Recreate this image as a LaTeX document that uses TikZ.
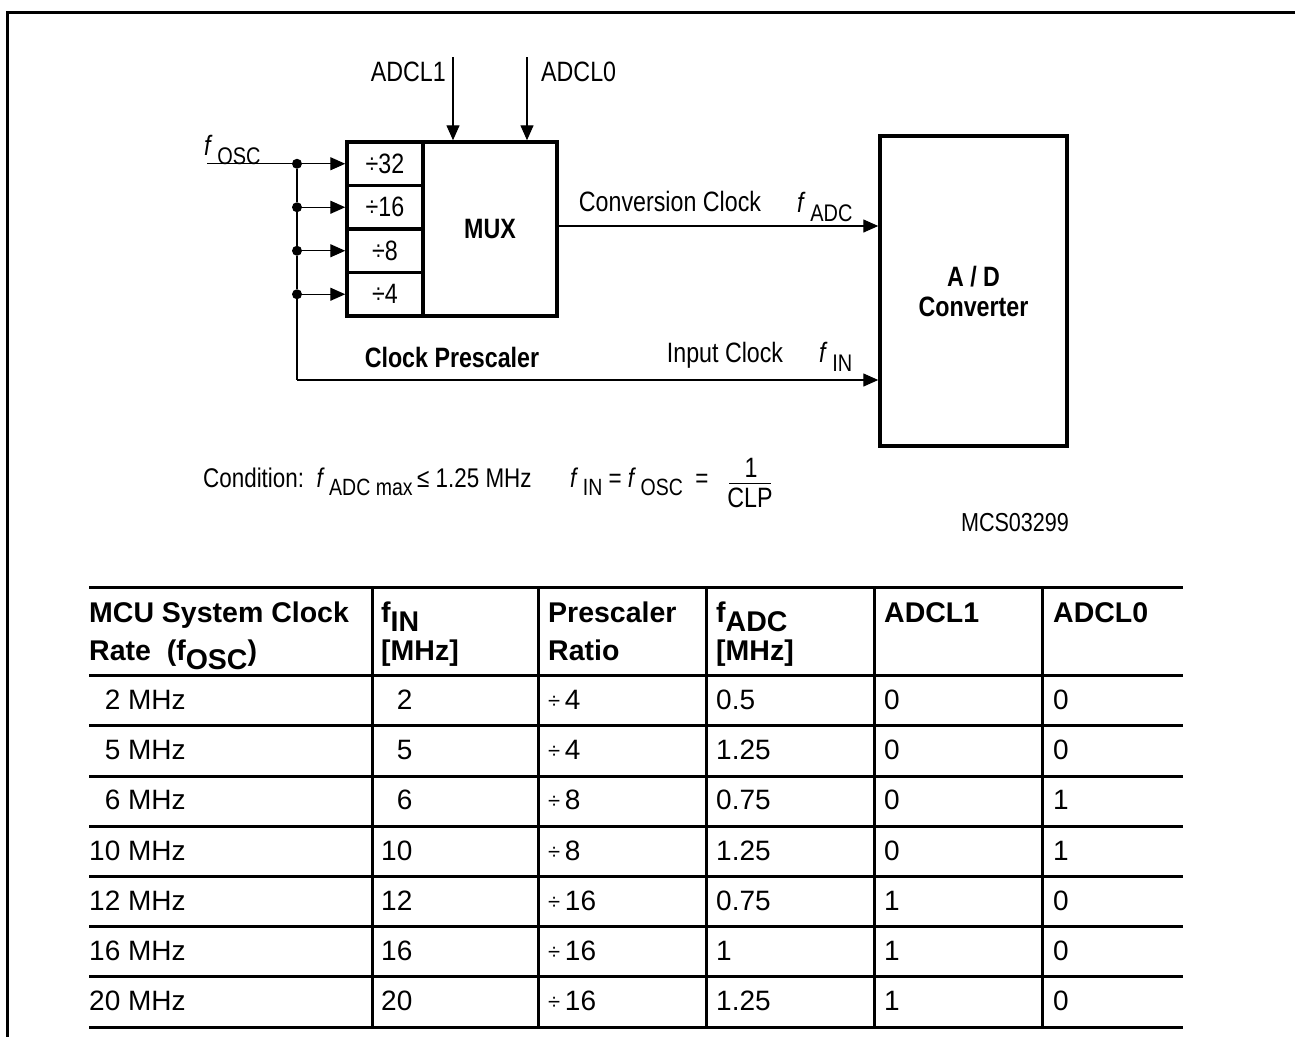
\documentclass[tikz,border=0pt]{standalone}
\usepackage{fontspec}
\setmainfont{Liberation Sans}
\newfontfamily\narrowfont[FakeStretch=0.83]{Liberation Sans}
\usetikzlibrary{arrows.meta}
\newcommand\lowtxt[1]{\raisebox{-0.32em}{#1}}
\newcommand\fvar[2]{\textit{#1}\,\lowtxt{\fontsize{24}{24}\selectfont #2}}
\newcommand\cvar[2]{\textit{#1}\,\lowtxt{\fontsize{23.5}{24}\selectfont #2}}
\newcommand\dvs[1]{{\fontsize{22}{22}\selectfont\raisebox{1pt}{÷}}\,#1}
\begin{document}
\begin{tikzpicture}[x=1pt,y=-1pt,
  lbl/.style={font=\narrowfont\fontsize{28}{30}\selectfont, inner sep=0pt},
  slbl/.style={font=\narrowfont\fontsize{27}{29}\selectfont, inner sep=0pt},
  blbl/.style={font=\narrowfont\bfseries\fontsize{28}{30}\selectfont, inner sep=0pt, align=center},
  cell/.style={draw, line width=3.5pt, minimum width=76pt, minimum height=43.5pt, inner sep=0pt, font=\narrowfont\fontsize{28}{30}\selectfont},
  bigbox/.style={draw, line width=3.5pt, inner sep=0pt},
  wire/.style={line width=1.4pt},
  arr/.style={wire, -{Triangle[length=15pt,width=13pt]}},
  dot/.style={circle, fill, inner sep=0pt, minimum size=10pt},
  th/.style={font=\bfseries\fontsize{28.5}{30}\selectfont, inner sep=0pt, anchor=base west},
  td/.style={font=\fontsize{28}{30}\selectfont, inner sep=0pt, anchor=west},
  rule/.style={line width=3pt}]
\useasboundingbox (0,0) rectangle (1295,1037);
% frame
\draw[line width=3pt] (1295,12) -- (7,12) -- (7,1037);

% prescaler
\node[cell] (d32) at (385,163.75) {÷32};
\node[cell] (d16) at (385,207.25) {÷16};
\node[cell] (d8)  at (385,250.75) {÷8};
\node[cell] (d4)  at (385,294.25) {÷4};
\node[bigbox, blbl, minimum width=134pt, minimum height=174pt] (mux) at (490,229) {MUX};
\node[bigbox, blbl, minimum width=187pt, minimum height=310pt] (ad) at (973.5,291) {A / D\\Converter};

% junctions
\node[dot] (j1) at (297,163.75) {};
\node[dot] (j2) at (297,207.25) {};
\node[dot] (j3) at (297,250.75) {};
\node[dot] (j4) at (297,294.25) {};
\coordinate (fo) at (207,163.75);
\coordinate (ic) at (297,380);
\coordinate (cc) at (557,226);
\coordinate (a1) at (453,57);
\coordinate (a0) at (527,57);

\draw[wire] (fo) -- (j1);
\draw[wire] (j1) -- (j2) -- (j3) -- (j4) -- (ic);
\draw[arr] (j1) -- (d32.west);
\draw[arr] (j2) -- (d16.west);
\draw[arr] (j3) -- (d8.west);
\draw[arr] (j4) -- (d4.west);
\draw[arr] (ic) -- (ic -| ad.west);
\draw[arr] (cc) -- (cc -| ad.west);
\draw[arr] (a1) -- (a1 |- mux.north);
\draw[arr] (a0) -- (a0 |- mux.north);

% labels
\node[lbl, anchor=east] (l1) at (446,72) {ADCL1};
\node[lbl, anchor=west] (l0) at (541,72) {ADCL0};
\node[lbl, anchor=west] (fosc) at (204,150) {\fvar{f}{OSC}};
\node[blbl] (cp) at (452,357) {Clock Prescaler};
\node[lbl] (conv) at (670,201) {Conversion Clock};
\node[lbl, anchor=west] (fadc) at (797,207) {\fvar{f}{ADC}};
\node[lbl] (inp) at (725,355) {Input Clock};
\node[lbl, anchor=west] (fin) at (819,357) {\fvar{f}{IN}};

% condition
\node[slbl, anchor=base west] (cond) at (203,487) {Condition:\ \ \cvar{f}{ADC max}\,≤ 1.25 MHz};
\node[slbl, anchor=base west] (eq) at (570,487) {\cvar{f}{IN} = \cvar{f}{OSC} \ =};
\node[lbl] (one) at (751,468) {1};
\node[lbl] (clp) at (750,498) {CLP};
\draw[line width=1pt] (729,483) -- (771,483);
\node[lbl, font=\narrowfont\fontsize{26}{28}\selectfont] (mcs) at (1015,523) {MCS03299};

% table rules
\foreach \y in {587,675,725,776,826,876,926,976,1027}
  \draw[rule] (89,\y) -- (1183,\y);
\foreach \x in {372,538,706,874,1042}
  \draw[rule] (\x,587) -- (\x,1027);

% header
\node[th] (h1a) at (89,622) {MCU System Clock};
\node[th] (h1b) at (89,660) {Rate\ \ (f\lowtxt{OSC})};
\node[th] (h2a) at (381,622) {f\lowtxt{IN}};
\node[th] (h2b) at (381,660) {[MHz]};
\node[th] (h3a) at (548,622) {Prescaler};
\node[th] (h3b) at (548,660) {Ratio};
\node[th] (h4a) at (716,622) {f\lowtxt{ADC}};
\node[th] (h4b) at (716,660) {[MHz]};
\node[th] (h5a) at (884,622) {ADCL1};
\node[th] (h6a) at (1053,622) {ADCL0};

% body
\foreach \a/\b/\c/\d/\e/\f [count=\i] in {
  \phantom{0}2 MHz/\phantom{0}2/4/0.5/0/0,
  \phantom{0}5 MHz/\phantom{0}5/4/1.25/0/0,
  \phantom{0}6 MHz/\phantom{0}6/8/0.75/0/1,
  10 MHz/10/8/1.25/0/1,
  12 MHz/12/16/0.75/1/0,
  16 MHz/16/16/1/1/0,
  20 MHz/20/16/1.25/1/0}{
  \pgfmathsetmacro\yy{650+50.1*\i}
  \node[td] (r\i c1) at (89,\yy) {\a};
  \node[td] (r\i c2) at (381,\yy) {\b};
  \node[td] (r\i c3) at (548,\yy) {\dvs{\c}};
  \node[td] (r\i c4) at (716,\yy) {\d};
  \node[td] (r\i c5) at (884,\yy) {\e};
  \node[td] (r\i c6) at (1053,\yy) {\f};
}
\end{tikzpicture}
\end{document}
